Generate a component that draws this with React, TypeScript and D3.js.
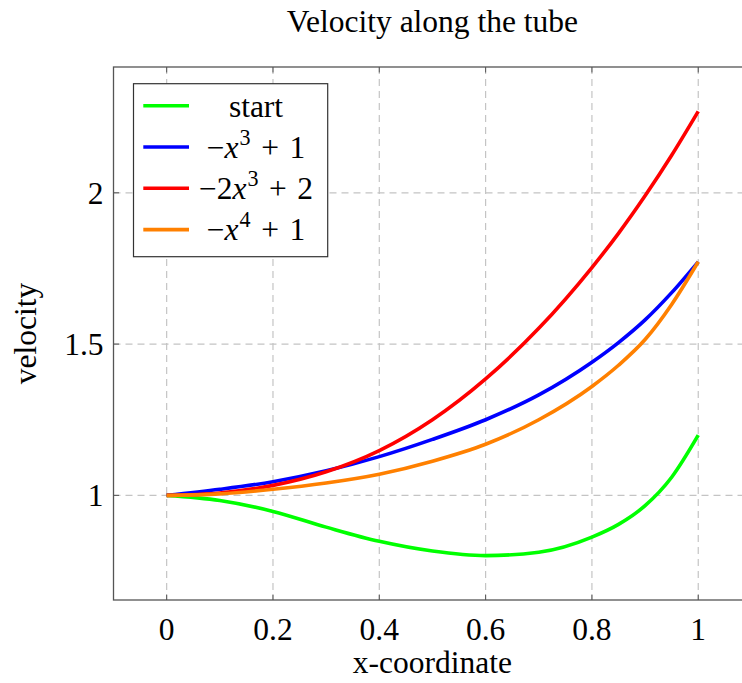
import React from "react";
import * as d3 from "d3";

const xValues = [0, 0.1, 0.2, 0.3, 0.4, 0.5, 0.6, 0.7, 0.8, 0.85, 0.9, 0.95, 1];
const startValues = [1, 0.983, 0.947, 0.895, 0.848, 0.816, 0.801, 0.812, 0.862, 0.904, 0.966, 1.06, 1.199];
const cubicValues = [1, 1.02, 1.045, 1.081, 1.128, 1.185, 1.25, 1.332, 1.44, 1.505, 1.58, 1.67, 1.772];
const cubic2Values = [1, 1.008, 1.033, 1.078, 1.148, 1.25, 1.385, 1.552, 1.753, 1.866, 1.99, 2.124, 2.269];
const quarticValues = [1, 1.005, 1.02, 1.041, 1.07, 1.113, 1.169, 1.25, 1.36, 1.43, 1.515, 1.631, 1.772];

const seriesNames = ["start", "−x^3 + 1", "−2x^3 + 2", "−x^4 + 1"];
const seriesColors = ["#00ff00", "#0000ff", "#ff0000", "#ff8000"];
const seriesData = [startValues, cubicValues, cubic2Values, quarticValues];

const xTicks = [0, 0.2, 0.4, 0.6, 0.8, 1];
const yTicks = [1, 1.5, 2];
const titleText = "Velocity along the tube";
const xLabel = "x-coordinate";
const yLabel = "velocity";

const W = 742;
const H = 683;
const left = 113.5;
const right = 751.4;
const top = 67;
const bottom = 600;
const FONT = "'Liberation Serif', 'Times New Roman', serif";
const FS = 31.5;

function enlarge(ext: [number, number]): [number, number] {
  const r = ext[1] - ext[0];
  return [ext[0] - 0.1 * r, ext[1] + 0.1 * r];
}

function MathLabel({ text, x, y }: { text: string; x: number; y: number }) {
  const parts = text.split(/(x\^\d)/).filter((p) => p.length > 0);
  const nodes: React.ReactNode[] = [];
  let raised = false;
  parts.forEach((p, i) => {
    if (/^x\^\d$/.test(p)) {
      nodes.push(
        <tspan key={i + "x"} fontStyle="italic" dy={raised ? 0.42 * FS : undefined}>
          x
        </tspan>
      );
      nodes.push(
        <tspan key={i + "s"} fontSize={FS * 0.7} dy={-0.42 * FS} dx={1}>
          {p[2]}
        </tspan>
      );
      raised = true;
    } else {
      nodes.push(
        <tspan key={i + "t"} dy={raised ? 0.42 * FS : undefined}>
          {p.replace(/ \+ /g, "\u2004+\u2004")}
        </tspan>
      );
      raised = false;
    }
  });
  return (
    <text x={x} y={y} textAnchor="middle" fontFamily={FONT} fontSize={FS} fill="#000">
      {nodes}
    </text>
  );
}

export default function App() {
  const allY = seriesData.flat();
  const xDom = enlarge(d3.extent(xValues) as [number, number]);
  const yDom = enlarge(d3.extent(allY) as [number, number]);
  const x = d3.scaleLinear().domain(xDom).range([left, right]);
  const y = d3.scaleLinear().domain(yDom).range([bottom, top]);

  const line = d3
    .line<number>()
    .x((_, i) => x(xValues[i]))
    .y((d) => y(d))
    .curve(d3.curveMonotoneX);

  const axisColor = "#555";
  const gridColor = "#c4c4c4";
  const tickLen = 5.5;

  const legX = 133.5;
  const legY = 83.7;
  const legW = 194.2;
  const legH = 173;
  const rowY = (i: number) => 105.7 + i * 41.3;

  return (
    <svg
      width={W}
      height={H}
      style={{ position: "absolute", left: 0, top: 0, background: "#fff" }}
    >
      <rect x={0} y={0} width={W} height={H} fill="#fff" />
      {xTicks.map((t) => (
        <line
          key={"gx" + t}
          x1={x(t)}
          x2={x(t)}
          y1={top}
          y2={bottom}
          stroke={gridColor}
          strokeWidth={1.2}
          strokeDasharray="7 5"
        />
      ))}
      {yTicks.map((t) => (
        <line
          key={"gy" + t}
          x1={left}
          x2={right}
          y1={y(t)}
          y2={y(t)}
          stroke={gridColor}
          strokeWidth={1.2}
          strokeDasharray="7 5"
        />
      ))}
      {seriesData.map((s, i) => (
        <path
          key={"s" + i}
          d={line(s) || ""}
          fill="none"
          stroke={seriesColors[i]}
          strokeWidth={3.6}
          strokeLinejoin="round"
        />
      ))}
      {xTicks.map((t) => (
        <g key={"tx" + t}>
          <line x1={x(t)} x2={x(t)} y1={bottom} y2={bottom - tickLen} stroke={axisColor} strokeWidth={1} />
          <line x1={x(t)} x2={x(t)} y1={top} y2={top + tickLen} stroke={axisColor} strokeWidth={1} />
          <text x={x(t)} y={bottom + 40} textAnchor="middle" fontFamily={FONT} fontSize={FS} fill="#000">
            {d3.format("~g")(t)}
          </text>
        </g>
      ))}
      {yTicks.map((t) => (
        <g key={"ty" + t}>
          <line x1={left} x2={left + tickLen} y1={y(t)} y2={y(t)} stroke={axisColor} strokeWidth={1} />
          <line x1={right} x2={right - tickLen} y1={y(t)} y2={y(t)} stroke={axisColor} strokeWidth={1} />
          <text x={left - 10} y={y(t) + 10.8} textAnchor="end" fontFamily={FONT} fontSize={FS} fill="#000">
            {d3.format("~g")(t)}
          </text>
        </g>
      ))}
      <rect
        x={left}
        y={top}
        width={right - left}
        height={bottom - top}
        fill="none"
        stroke={axisColor}
        strokeWidth={1.3}
      />
      <rect x={legX} y={legY} width={legW} height={legH} fill="#fff" stroke="#333" strokeWidth={1.2} />
      {seriesNames.map((n, i) => (
        <g key={"l" + i}>
          <line x1={143.3} x2={189} y1={rowY(i)} y2={rowY(i)} stroke={seriesColors[i]} strokeWidth={3.6} />
          <MathLabel text={n} x={256} y={rowY(i) + 10.8} />
        </g>
      ))}
      <text x={(left + right) / 2} y={32} textAnchor="middle" fontFamily={FONT} fontSize={FS} fill="#000">
        {titleText}
      </text>
      <text x={(left + right) / 2} y={673} textAnchor="middle" fontFamily={FONT} fontSize={FS} fill="#000">
        {xLabel}
      </text>
      <text
        transform={`translate(36,${(top + bottom) / 2}) rotate(-90)`}
        textAnchor="middle"
        fontFamily={FONT}
        fontSize={FS}
        fill="#000"
      >
        {yLabel}
      </text>
    </svg>
  );
}
